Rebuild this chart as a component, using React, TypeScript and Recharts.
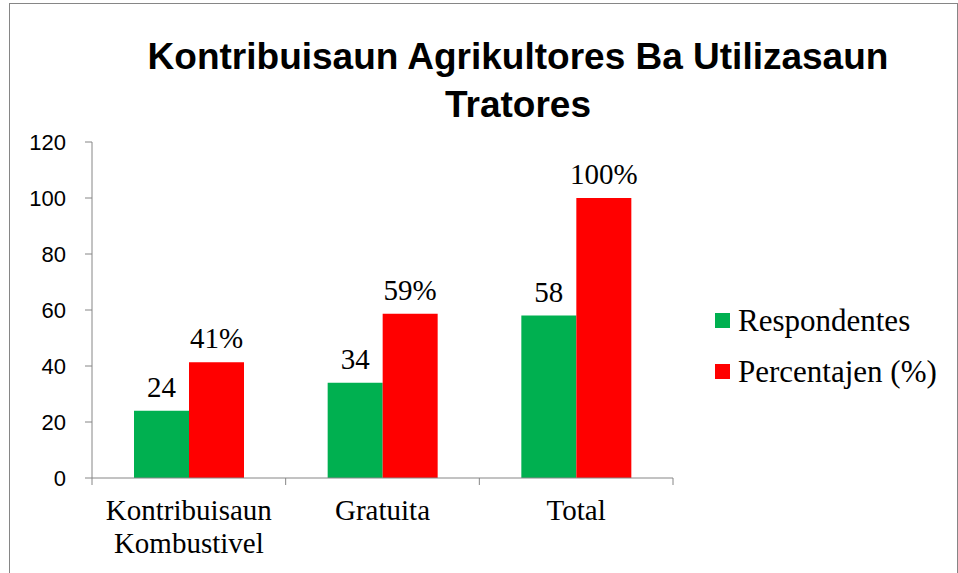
import { BarChart, Bar, XAxis, YAxis, LabelList, Legend } from 'recharts'

const categories = ['Kontribuisaun Kombustivel', 'Gratuita', 'Total']
const respondentes = [24, 34, 58]
const percentajen = [41.38, 58.62, 100]
const yTicks = [0, 20, 40, 60, 80, 100, 120]
const titleLines = ['Kontribuisaun Agrikultores Ba Utilizasaun', 'Tratores']
const seriesNames = ['Respondentes', 'Percentajen (%)']

const GREEN = '#00B050'
const RED = '#FF0000'
const AXIS = '#868686'
const SANS = '"Liberation Sans", Arial, sans-serif'
const SERIF = '"Liberation Serif", "Times New Roman", serif'

const data = categories.map((name, i) => ({
  name,
  respondentes: respondentes[i],
  percentajen: percentajen[i],
}))

function CategoryTick(props: any) {
  const { x, y, payload, index } = props
  const half = payload.offset ?? 0
  const lines = String(payload.value).split(' ')
  return (
    <g>
      <line x1={x - half} x2={x - half} y1={y} y2={y + 7} stroke={AXIS} />
      {index === categories.length - 1 && (
        <line x1={x + half} x2={x + half} y1={y} y2={y + 7} stroke={AXIS} />
      )}
      <text x={x} y={y + 42} textAnchor="middle" fontFamily={SERIF} fontSize={29} fill="#000">
        {lines.map((l, i) => (
          <tspan key={i} x={x} dy={i === 0 ? 0 : 33}>
            {l}
          </tspan>
        ))}
      </text>
    </g>
  )
}

function LegendContent(props: any) {
  // keep series order as in the reference (vertical legend comes back reversed)
  const items = [...(props.payload ?? [])].sort(
    (a: any, b: any) => seriesNames.indexOf(a.value) - seriesNames.indexOf(b.value),
  )
  return (
    <div>
      {items.map((entry: any) => (
        <div key={entry.value} style={{ display: 'flex', alignItems: 'center', height: 51 }}>
          <span style={{ width: 15, height: 15, background: entry.color, marginRight: 8 }} />
          <span style={{ fontFamily: SERIF, fontSize: 31, color: '#000', whiteSpace: 'nowrap' }}>
            {entry.value}
          </span>
        </div>
      ))}
    </div>
  )
}

export default function App() {
  return (
    <div
      style={{
        position: 'absolute',
        left: 0,
        top: 0,
        width: 958,
        height: 573,
        overflow: 'hidden',
        background: '#fff',
      }}
    >
      <div
        style={{
          position: 'absolute',
          left: 9,
          top: 3,
          width: 947,
          height: 620,
          border: `1px solid ${AXIS}`,
        }}
      />
      <div
        style={{
          position: 'absolute',
          left: 118,
          top: 33,
          width: 800,
          textAlign: 'center',
          fontFamily: SANS,
          fontWeight: 'bold',
          fontSize: 37,
          lineHeight: '48px',
          color: '#000',
        }}
      >
        {titleLines.map((l) => (
          <div key={l}>{l}</div>
        ))}
      </div>
      <div style={{ position: 'absolute', left: 0, top: 0 }}>
        <BarChart
          width={958}
          height={573}
          data={data}
          margin={{ top: 142, right: 285, left: 0, bottom: 0 }}
          barSize={55}
          barGap={0}
        >
          <XAxis
            dataKey="name"
            height={95}
            tickSize={0}
            tickMargin={0}
            tick={<CategoryTick />}
            tickLine={false}
            axisLine={{ stroke: AXIS }}
            interval={0}
          />
          <YAxis
            width={92}
            domain={[0, 120]}
            ticks={yTicks}
            tickSize={7}
            tickMargin={19}
            tickLine={{ stroke: AXIS }}
            axisLine={{ stroke: AXIS }}
            tick={{ fontFamily: SANS, fontSize: 22, fill: '#000' }}
          />
          <Legend
            layout="vertical"
            align="center"
            verticalAlign="middle"
            content={<LegendContent />}
            wrapperStyle={{ left: 715, top: 295, width: 240, height: 102 }}
          />
          <Bar dataKey="respondentes" name={seriesNames[0]} fill={GREEN} isAnimationActive={false}>
            <LabelList
              dataKey="respondentes"
              position="top"
              offset={14}
              fontFamily={SERIF}
              fontSize={29}
              fill="#000"
            />
          </Bar>
          <Bar dataKey="percentajen" name={seriesNames[1]} fill={RED} isAnimationActive={false}>
            <LabelList
              dataKey="percentajen"
              position="top"
              offset={14}
              fontFamily={SERIF}
              fontSize={29}
              fill="#000"
              formatter={(v: any) => `${Math.round(Number(v))}%`}
            />
          </Bar>
        </BarChart>
      </div>
    </div>
  )
}
